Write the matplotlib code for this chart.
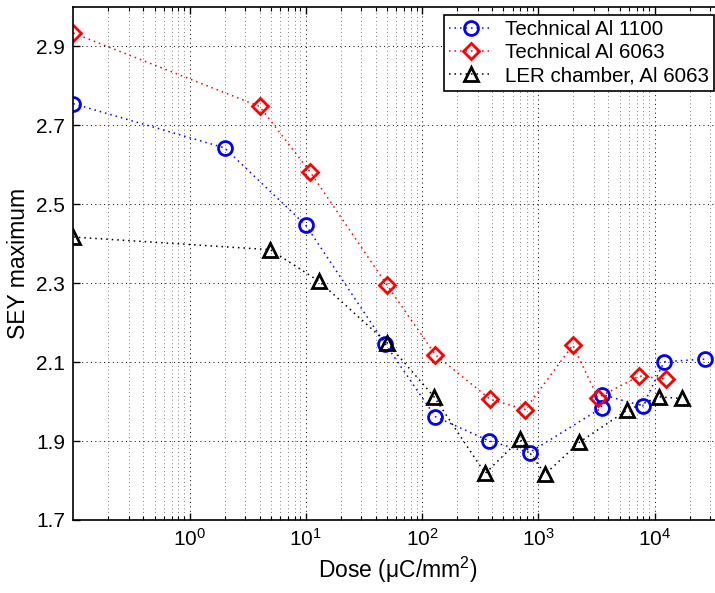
import matplotlib
matplotlib.use("Agg")
import matplotlib.pyplot as plt
from matplotlib.ticker import LogLocator, FixedLocator, NullFormatter

plt.rcParams['font.family'] = ['Liberation Sans', 'DejaVu Sans']
plt.rcParams['mathtext.fontset'] = 'custom'
plt.rcParams['mathtext.rm'] = 'Liberation Sans'
plt.rcParams['mathtext.it'] = 'Liberation Sans:italic'

# Technical Al 1100
dose_1100 = [0.1, 2.0, 10.0, 48, 130, 380, 840, 3500, 3500, 7900, 12100, 27400]
sey_1100 = [2.755, 2.643, 2.447, 2.147, 1.962, 1.900, 1.871, 1.984, 2.018, 1.989, 2.101, 2.108]

# Technical Al 6063
dose_6063 = [0.1, 4.0, 10.9, 50, 130, 385, 770, 1980, 3250, 7400, 12600]
sey_6063 = [2.934, 2.748, 2.582, 2.295, 2.119, 2.006, 1.980, 2.143, 2.010, 2.065, 2.057]

# LER chamber, Al 6063
dose_ler = [0.1, 4.94, 13.0, 50, 127, 349, 697, 1143, 2256, 5770, 11000, 17100]
sey_ler = [2.417, 2.385, 2.305, 2.149, 2.012, 1.818, 1.905, 1.816, 1.897, 1.978, 2.012, 2.008]

labels = ['Technical Al 1100', 'Technical Al 6063', 'LER chamber, Al 6063']
y_ticks = [1.7, 1.9, 2.1, 2.3, 2.5, 2.7, 2.9]

fig = plt.figure(figsize=(7.15, 5.93), dpi=100)
ax = fig.add_axes([73.3 / 715, 73 / 593, (722 - 73.3) / 715, 513 / 593])

dot = (0, (1.0, 2.6))
ax.plot(dose_1100, sey_1100, linestyle=dot, color='blue', lw=1.1,
        marker='o', ms=10, mfc='none', mec='blue', mew=2.0, label=labels[0])
ax.plot(dose_6063, sey_6063, linestyle=dot, color='red', lw=1.1,
        marker='D', ms=8.5, mfc='none', mec='red', mew=2.0, label=labels[1])
ax.plot(dose_ler, sey_ler, linestyle=dot, color='black', lw=1.1,
        marker='^', ms=10.5, mfc='none', mec='black', mew=2.0, label=labels[2])

ax.set_xscale('log')
ax.set_xlim(0.1, 10 ** 4.58)
ax.set_ylim(1.7, 3.0)
ax.yaxis.set_major_locator(FixedLocator(y_ticks))
ax.set_yticklabels([f'{v:.1f}' for v in y_ticks])
ax.xaxis.set_major_locator(FixedLocator([1, 10, 100, 1000, 10000]))
ax.set_xticklabels([r'$10^{0}$', r'$10^{1}$', r'$10^{2}$', r'$10^{3}$', r'$10^{4}$'])
ax.xaxis.set_minor_locator(LogLocator(base=10, subs=range(2, 10), numticks=20))
ax.xaxis.set_minor_formatter(NullFormatter())

gdot = (0, (1.0, 3.5))
ax.grid(True, which='major', axis='both', linestyle=gdot, color='black', lw=0.7)
ax.grid(True, which='minor', axis='x', linestyle=gdot, color='#555555', lw=0.6)
ax.set_axisbelow(True)

ax.tick_params(which='both', direction='in', top=True, right=True, labelsize=15, pad=6)
ax.tick_params(which='major', length=5, width=1)
ax.tick_params(which='minor', length=3, width=0.8)
for s in ax.spines.values():
    s.set_linewidth(1.2)

ax.set_xlabel('Dose (μC/mm$^{2}$)', fontsize=16.5, labelpad=3)
ax.set_ylabel('SEY maximum', fontsize=16.5, labelpad=4)

leg = ax.legend(loc='upper right', fontsize=14.8, frameon=True, fancybox=False,
                edgecolor='black', framealpha=1, borderaxespad=0.4,
                handlelength=2.1, handletextpad=0.6, labelspacing=0.2,
                borderpad=0.25)
leg.get_frame().set_linewidth(1.2)

fig.savefig('out.png', dpi=100)
